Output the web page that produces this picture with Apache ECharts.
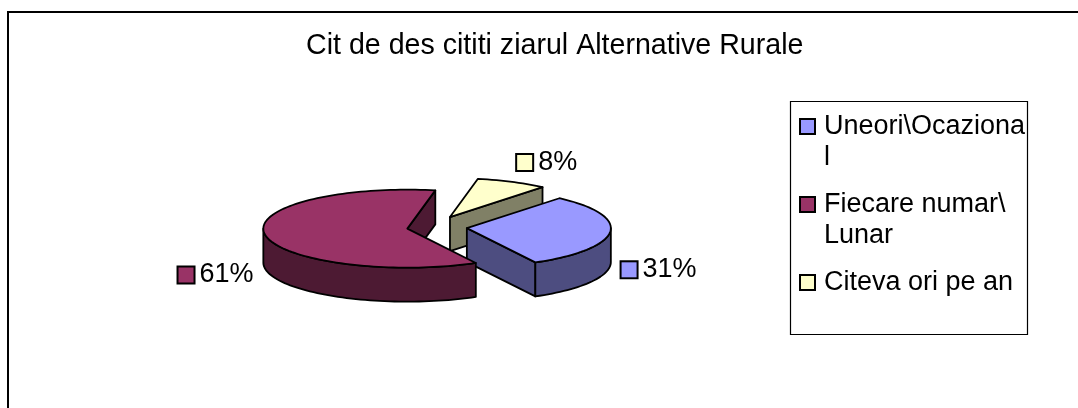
<!DOCTYPE html>
<html>
<head>
<meta charset="utf-8">
<script src="https://cdn.jsdelivr.net/npm/echarts@6/dist/echarts.min.js"></script>
<style>
  html, body { margin: 0; padding: 0; background: #fff; }
  #main { width: 1078px; height: 408px; }
</style>
</head>
<body>
<div id="main"></div>
<script>
// date
const titleText = 'Cit de des cititi ziarul Alternative Rurale';
const categories = ['Uneori\\Ocazional', 'Fiecare numar\\Lunar', 'Citeva ori pe an'];
const values = [31, 61, 8];
const colors = ['#9999FF', '#993366', '#FFFFCC'];
const sideColors = ['#4D4D80', '#4D1A33', '#808066'];
// textul din legenda, rupt ca in original (linia goala de sus aliniaza primul rand cu patratul)
const legendText = {
  'Uneori\\Ocazional': '\nUneori\\Ocaziona\nl',
  'Fiecare numar\\Lunar': '\nFiecare numar\\\nLunar',
  'Citeva ori pe an': 'Citeva ori pe an'
};

const FONT = '"Liberation Sans", Arial, sans-serif';
// geometria placintei 3D
const CX = 437, CY = 227, RX = 144, RY = 39, DEPTH = 34;
const EXP_X = 30, EXP_Y = 11, START = 40;
const total = values.reduce((a, b) => a + b, 0);
const rad = (d) => d * Math.PI / 180;

function pt(cx, cy, th, dy) {
  return [cx + RX * Math.sin(rad(th)), cy - RY * Math.cos(rad(th)) + (dy || 0)];
}
function arc(cx, cy, a, b, dy) {
  const n = Math.max(2, Math.ceil((b - a) / 2));
  const out = [];
  for (let k = 0; k <= n; k++) out.push(pt(cx, cy, a + (b - a) * k / n, dy));
  return out;
}

function renderSlice(i) {
  return function (params, api) {
    const v = api.value(0);
    let before = 0;
    for (let j = 0; j < i; j++) before += values[j];
    const a0 = START + 360 * before / total;
    const a1 = a0 + 360 * v / total;
    const m = (a0 + a1) / 2;
    const cx = CX + EXP_X * Math.sin(rad(m));
    const cy = CY - EXP_Y * Math.cos(rad(m));
    const line = { stroke: '#000', lineWidth: 1.8, lineJoin: 'round' };
    const side = Object.assign({ fill: sideColors[i] }, line);
    const children = [];

    // fetele radiale vizibile
    if (Math.cos(rad(a0 - 90)) < 0) {
      const p = pt(cx, cy, a0);
      children.push({ type: 'polygon', shape: { points: [[cx, cy], p, [p[0], p[1] + DEPTH], [cx, cy + DEPTH]] }, style: side });
    }
    if (Math.cos(rad(a1 + 90)) < 0) {
      const p = pt(cx, cy, a1);
      children.push({ type: 'polygon', shape: { points: [[cx, cy], p, [p[0], p[1] + DEPTH], [cx, cy + DEPTH]] }, style: side });
    }
    // peretele curb din fata
    [[90, 270], [450, 630]].forEach(function (r) {
      const s = Math.max(a0, r[0]), e = Math.min(a1, r[1]);
      if (e > s) {
        const pts = arc(cx, cy, s, e, 0).concat(arc(cx, cy, s, e, DEPTH).reverse());
        children.push({ type: 'polygon', shape: { points: pts }, style: side });
      }
    });
    // fata de sus
    children.push({
      type: 'polygon',
      shape: { points: [[cx, cy]].concat(arc(cx, cy, a0, a1, 0)) },
      style: Object.assign({ fill: colors[i] }, line)
    });
    // eticheta cu procent
    const sn = Math.sin(rad(m)), cs = Math.cos(rad(m));
    children.push({
      type: 'text',
      x: cx + sn * 1.08 * RX,
      y: cy - 96 * cs + 32,
      style: {
        text: '{s|}{t|' + Math.round(v / total * 100) + '%}',
        align: sn >= 0 ? 'left' : 'right',
        verticalAlign: 'middle',
        rich: {
          s: { width: 15, height: 15, backgroundColor: colors[i], borderColor: '#000', borderWidth: 2 },
          t: { fontSize: 27, fontFamily: FONT, fill: '#000', padding: [0, 0, 0, 6] }
        }
      }
    });
    return { type: 'group', children: children };
  };
}

// ordinea de desenare: spate -> fata
const zOrder = [2, 3, 1];

const chart = echarts.init(document.getElementById('main'));
chart.setOption({
  animation: false,
  backgroundColor: '#fff',
  title: {
    text: titleText,
    left: 306,
    top: 32,
    padding: 0,
    textStyle: { fontSize: 28.6, fontWeight: 'normal', fontFamily: FONT, color: '#000' }
  },
  graphic: [
    { type: 'rect', silent: true, shape: { x: 8, y: 12, width: 1200, height: 600 }, style: { fill: 'none', stroke: '#000', lineWidth: 2 } },
    { type: 'rect', silent: true, shape: { x: 790.5, y: 101.5, width: 237, height: 233 }, style: { fill: 'none', stroke: '#000', lineWidth: 1.2 } }
  ],
  legend: {
    orient: 'vertical',
    left: 799,
    top: 80,
    padding: 0,
    itemGap: -15,
    itemWidth: 15,
    itemHeight: 15,
    icon: 'rect',
    selectedMode: false,
    itemStyle: { borderColor: '#000', borderWidth: 2 },
    textStyle: { fontSize: 27, fontFamily: FONT, color: '#000', lineHeight: 31 },
    formatter: (name) => legendText[name],
    data: categories.map((c, i) => ({
      name: c,
      textStyle: { padding: i < 2 ? [0, 0, 0, 4] : [31, 0, 31, 4] }
    }))
  },
  series: categories.map((c, i) => ({
    name: c,
    type: 'custom',
    coordinateSystem: 'none',
    z: zOrder[i],
    itemStyle: { color: colors[i] },
    data: [[values[i]]],
    renderItem: renderSlice(i)
  }))
});
</script>
</body>
</html>
